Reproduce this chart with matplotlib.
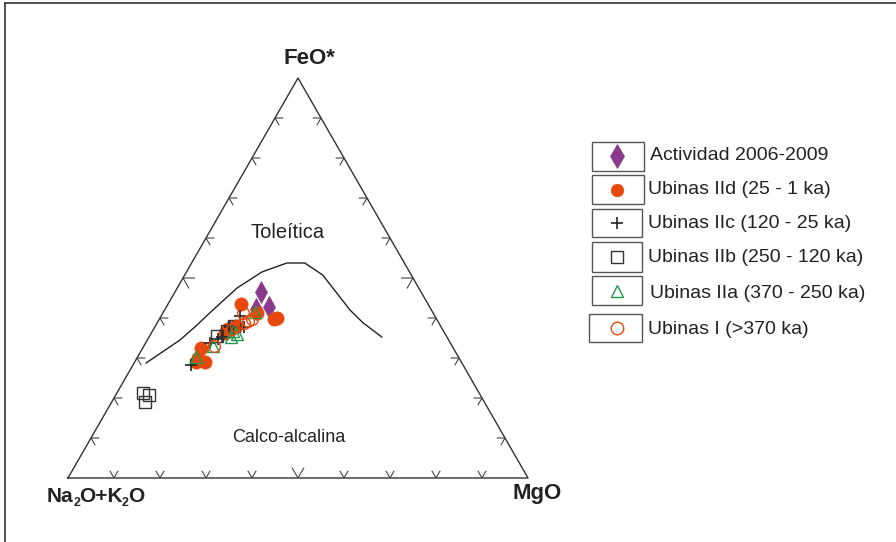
import matplotlib
matplotlib.use("Agg")
import matplotlib.pyplot as plt
from matplotlib.patches import Rectangle

plt.rcParams['font.family'] = ['Liberation Sans', 'DejaVu Sans']

# AFM compositions (%): A = Na2O+K2O, F = FeO*, M = MgO
act_A = [34.8, 35.0, 38.0]
act_F = [46.5, 42.8, 42.2]
act_M = [18.7, 22.2, 19.8]

iid_A = [40.6, 38.3, 35.3, 34.6, 46.6, 47.8, 54.8, 56.7, 55.7, 57.7, 44.5]
iid_F = [43.5, 41.2, 39.8, 40.0, 37.2, 36.2, 32.5, 30.0, 29.0, 29.0, 38.0]
iid_M = [15.9, 20.5, 24.9, 25.4, 16.2, 16.0, 12.7, 13.3, 15.3, 13.3, 17.5]

iic_A = [42.4, 46.0, 42.9, 48.9, 52.3, 59.1, 50.0]
iic_F = [40.5, 37.7, 37.7, 35.2, 33.8, 28.2, 34.8]
iic_M = [17.1, 16.3, 19.4, 15.9, 13.9, 12.7, 15.2]

iib_A = [49.9, 47.0, 44.9, 73.1, 72.1, 73.8]
iib_F = [35.5, 36.8, 38.0, 21.2, 20.7, 19.0]
iib_M = [14.6, 16.2, 17.1, 5.7, 7.2, 7.2]

iia_A = [38.6, 45.3, 47.0, 52.0, 57.1, 45.8]
iia_F = [41.5, 36.0, 35.2, 33.0, 30.2, 36.7]
iia_M = [19.9, 18.7, 17.8, 15.0, 12.7, 17.5]

ui_A = [41.3, 41.3, 42.4, 44.5, 45.7, 51.8, 40.2]
ui_F = [41.2, 39.2, 38.8, 38.0, 37.2, 33.0, 39.8]
ui_M = [17.5, 19.5, 18.8, 17.5, 17.1, 15.2, 20.0]

# tholeiitic / calc-alkaline boundary (F, M in %)
bound_F = [28.75, 34.5, 38.2, 42.0, 47.5, 51.5, 53.75, 53.75, 50.75, 42.0, 38.75, 35.25]
bound_M = [2.6, 7.1, 8.9, 10.5, 13.0, 16.4, 20.7, 24.6, 30.0, 40.3, 44.8, 50.6]

tick_vals = [10, 20, 30, 40, 50, 60, 70, 80, 90]

series = [
    ("Actividad 2006-2009", act_A, act_F, act_M,
     dict(marker='d', ms=11, mfc='#8a3a8a', mec='#8a3a8a', mew=0.5), 12),
    ("Ubinas IId (25 - 1 ka)", iid_A, iid_F, iid_M,
     dict(marker='o', ms=9.5, mfc='#e8480c', mec='#e8480c', mew=0.5), 9),
    ("Ubinas IIc (120 - 25 ka)", iic_A, iic_F, iic_M,
     dict(marker='+', ms=9, mfc='none', mec='#222222', mew=1.2), 9),
    ("Ubinas IIb (250 - 120 ka)", iib_A, iib_F, iib_M,
     dict(marker='s', ms=8, mfc='none', mec='#333333', mew=1.0), 8),
    ("Ubinas IIa (370 - 250 ka)", iia_A, iia_F, iia_M,
     dict(marker='^', ms=9, mfc='none', mec='#1f9a4e', mew=1.0), 9),
    ("Ubinas I (>370 ka)", ui_A, ui_F, ui_M,
     dict(marker='o', ms=8.5, mfc='none', mec='#e8480c', mew=1.0), 9),
]


def to_xy(A, F, M):
    xs, ys = [], []
    for a, f, m in zip(A, F, M):
        s = a + f + m
        xs.append(m / s + 0.5 * f / s)
        ys.append(f / s)
    return xs, ys


fig = plt.figure(figsize=(8.96, 5.42), dpi=100)

# pixel overlay for frame, labels and legend
ov = fig.add_axes([0, 0, 1, 1])
ov.set_xlim(0, 896)
ov.set_ylim(542, 0)
ov.axis('off')

ax = fig.add_axes([68 / 896, 64 / 542, 460 / 896, 400 / 542])
ax.set_xlim(0, 1)
ax.set_ylim(0, 1)
ax.axis('off')

# outer frame (top and left only)
ov.plot([5, 896], [3, 3], color='#333333', lw=1.2)
ov.plot([5, 5], [3, 542], color='#333333', lw=1.2)

# triangle
ax.plot([0, 1, 0.5, 0], [0, 0, 1, 0], color='#333333', lw=1.0, clip_on=False)

# ticks
for v in tick_vals:
    t = 0.025 if v == 50 else 0.017
    p = v / 100
    ax.plot([p - 0.5 * t, p, p + 0.5 * t], [t, 0, t], color='#444444', lw=0.8)
    lx, ly = 0.5 * p, p
    ax.plot([lx + t, lx, lx + 0.5 * t], [ly, ly, ly - t], color='#444444', lw=0.8)
    rx, ry = 1 - 0.5 * p, p
    ax.plot([rx - t, rx, rx - 0.5 * t], [ry, ry, ry - t], color='#444444', lw=0.8)

# boundary curve
bx, by = to_xy([100 - f - m for f, m in zip(bound_F, bound_M)], bound_F, bound_M)
ax.plot(bx, by, color='#222222', lw=1.0)

# data
for z, (label, A, F, M, style, _) in enumerate(series):
    xs, ys = to_xy(A, F, M)
    ax.plot(xs, ys, ls='none', zorder=3 + z, **style)

# corner and field labels
ov.text(309, 58, "FeO*", fontsize=16, fontweight='bold', color='#222222',
        ha='center', va='center')
ov.text(513, 494, "MgO", fontsize=16, fontweight='bold', color='#222222',
        ha='left', va='center')

# Na2O+K2O built piece by piece so the subscripts stay small and tight
renderer = fig.canvas.get_renderer()
x = 47.0
for piece, sub in [("Na", False), ("2", True), ("O+K", False), ("2", True), ("O", False)]:
    if sub:
        t = ov.text(x, 503, piece, fontsize=9, fontweight='bold', color='#222222',
                    ha='left', va='center')
    else:
        t = ov.text(x, 496, piece, fontsize=15, fontweight='bold', color='#222222',
                    ha='left', va='center')
    bb = t.get_window_extent(renderer)
    x += bb.width * 896 / fig.bbox.width - (1.0 if sub else 0.5)

ov.text(288, 232, "Toleítica", fontsize=14.5, color='#222222',
        ha='center', va='center')
ov.text(289, 438, "Calco-alcalina", fontsize=13, color='#222222',
        ha='center', va='center')

# legend boxes
boxes = [(592, 142, 52, 29), (592, 175, 52, 29), (592, 209, 50, 28),
         (592, 242, 50, 30), (592, 276, 50, 29), (589, 314, 53, 28)]
centers_y = [156, 190, 223, 257, 291, 328]
text_x = [650, 648, 648, 648, 650, 648]
text_y = [156, 190, 224, 258, 293, 329]

for (bx0, by0, bw, bh), cy, tx, ty, (label, A, F, M, style, lms) in zip(
        boxes, centers_y, text_x, text_y, series):
    ov.add_patch(Rectangle((bx0, by0), bw, bh, fill=False,
                           edgecolor='#555555', lw=1.0))
    st = dict(style)
    st['ms'] = lms
    ov.plot([617], [cy], ls='none', **st)
    ov.text(tx, ty, label, fontsize=14, color='#222222',
            ha='left', va='center')

fig.savefig("out.png", dpi=100)
